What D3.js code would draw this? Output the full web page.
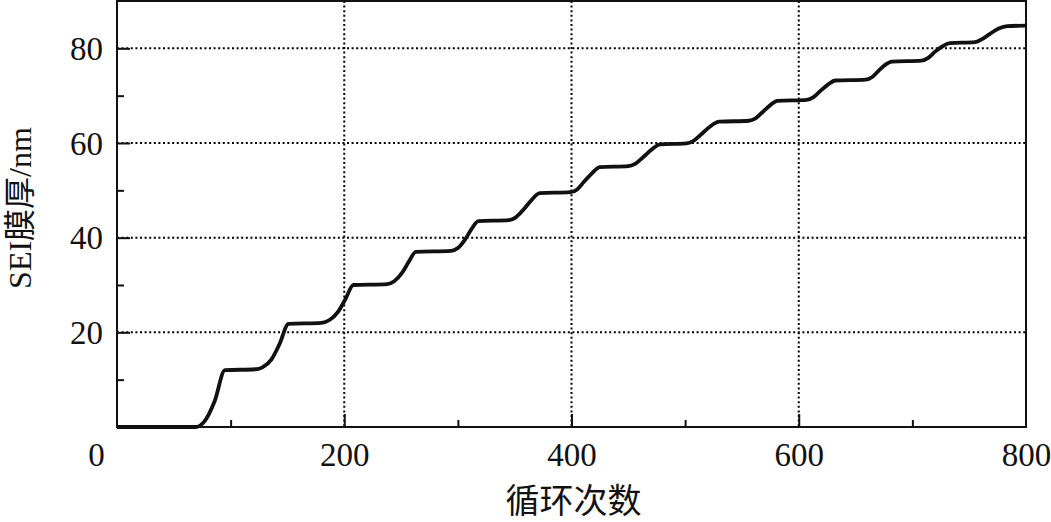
<!DOCTYPE html>
<html>
<head>
<meta charset="utf-8">
<style>
body { margin: 0; background: #fff; }
text { font-family: "Liberation Serif", "Times New Roman", "Noto Sans CJK SC", serif; fill: #111; }
</style>
</head>
<body></body>
<script src="https://d3js.org/d3.v7.min.js"></script>
<script>

// cycle numbers and SEI thickness
var cycles = [0, 69, 77, 86, 95, 122, 128, 136, 143, 151, 180, 187, 195, 201, 208,
	238, 244, 251, 257, 263, 294, 300, 306, 312, 318, 345, 351, 358, 365, 372,
	399, 405, 411, 418, 425, 450, 456, 463, 471, 478, 501, 507, 514, 522, 530,
	556, 562, 568, 575, 581, 607, 613, 619, 626, 632, 659, 665, 670, 676, 682,
	708, 714, 720, 727, 733, 755, 761, 768, 776, 783.5, 800];
var thickness = [0, 0, 1.2, 5.5, 12, 12.2, 12.6, 14.3, 17.5, 21.8, 22.0, 22.6, 24.5, 27, 30,
	30.2, 30.8, 32.6, 35, 37, 37.2, 37.8, 39.5, 41.8, 43.5, 43.7, 44.3, 46, 48, 49.4,
	49.6, 50.2, 51.8, 53.6, 54.9, 55.1, 55.6, 57, 58.7, 59.7, 59.9, 60.4, 61.8, 63.5, 64.5,
	64.7, 65.2, 66.5, 68, 68.9, 69.1, 69.7, 71, 72.4, 73.2, 73.4, 74, 75.2, 76.5, 77.2,
	77.4, 78, 79.3, 80.5, 81.1, 81.3, 81.9, 83, 84.2, 84.7, 84.8];

var xTicks = [0, 200, 400, 600, 800];
var xMinor = [100, 300, 500, 700];
var yTicks = [20, 40, 60, 80];
var yMinor = [10, 30, 50, 70];
var xTitle = "循环次数";
var yTitle = "SEI膜厚/nm";

var W = 1051, H = 522;
var margin = { top: 1, right: 25, bottom: 95, left: 117 }
	, width = W - margin.left - margin.right
	, height = H - margin.top - margin.bottom;

var x = d3.scaleLinear().domain([0, 800]).range([0, width]);
var y = d3.scaleLinear().domain([0, 90]).range([height, 0]);

var svg = d3.select("body").append("svg")
		.attr("width", W)
		.attr("height", H)
	  .append("g")
		.attr("transform", "translate(" + margin.left + "," + margin.top + ")");

// dotted grid
svg.append("g").selectAll("line")
		.data(yTicks)
	  .enter().append("line")
		.attr("x1", 0).attr("x2", width)
		.attr("y1", d => y(d)).attr("y2", d => y(d))
		.attr("stroke", "#000")
		.attr("stroke-width", 2)
		.attr("stroke-dasharray", "2,2.6");

svg.append("g").selectAll("line")
		.data(xTicks.slice(1, -1))
	  .enter().append("line")
		.attr("x1", d => x(d)).attr("x2", d => x(d))
		.attr("y1", 0).attr("y2", height)
		.attr("stroke", "#000")
		.attr("stroke-width", 2)
		.attr("stroke-dasharray", "2,2.6");

// curve
var pts = cycles.map((c, i) => [c, thickness[i]]);
svg.append("path")
		.datum(pts)
		.attr("fill", "none")
		.attr("stroke", "#111")
		.attr("stroke-width", 3.8)
		.attr("stroke-linejoin", "round")
		.attr("d", d3.line()
			.x(d => x(d[0]))
			.y(d => y(d[1]))
			.curve(d3.curveMonotoneX));

// frame
svg.append("rect")
		.attr("x", 0).attr("y", 0)
		.attr("width", width).attr("height", height)
		.attr("fill", "none")
		.attr("stroke", "#111")
		.attr("stroke-width", 2);

// axes: ticks point inward
var xAxis = svg.append("g")
		.attr("transform", "translate(0," + height + ")")
		.call(d3.axisBottom(x).tickValues(xTicks).tickSize(-13).tickPadding(26));
var xAxisMinor = svg.append("g")
		.attr("transform", "translate(0," + height + ")")
		.call(d3.axisBottom(x).tickValues(xMinor).tickSize(-7).tickFormat(""));
var yAxis = svg.append("g")
		.call(d3.axisLeft(y).tickValues(yTicks).tickSize(-13).tickPadding(14));
var yAxisMinor = svg.append("g")
		.call(d3.axisLeft(y).tickValues(yMinor).tickSize(-7).tickFormat(""));

[xAxis, xAxisMinor, yAxis, yAxisMinor].forEach(a => {
	a.select(".domain").remove();
	a.selectAll(".tick line").attr("stroke", "#111").attr("stroke-width", 2);
	a.selectAll(".tick text")
		.attr("font-size", 33)
		.attr("font-family", "Liberation Serif, serif")
		.attr("fill", "#111");
});
yAxis.selectAll(".tick text").attr("dy", "0.34em");
xAxis.selectAll(".tick text").attr("dy", "0.4em");
// zero tick at origin: no tick line drawn on the frame corner
xAxis.selectAll(".tick").filter(d => d === 0 || d === 800).select("line").remove();
xAxis.selectAll(".tick").filter(d => d === 0).select("text").attr("x", -21);

// titles
svg.append("text")
		.attr("x", width / 2 + 2)
		.attr("y", height + 86)
		.attr("text-anchor", "middle")
		.attr("font-size", 34)
		.text(xTitle);

svg.append("text")
		.attr("transform", "translate(" + (-86) + "," + (height / 2 - 6) + ") rotate(-90)")
		.attr("text-anchor", "middle")
		.attr("font-size", 32)
		.text(yTitle);

</script>
</html>
